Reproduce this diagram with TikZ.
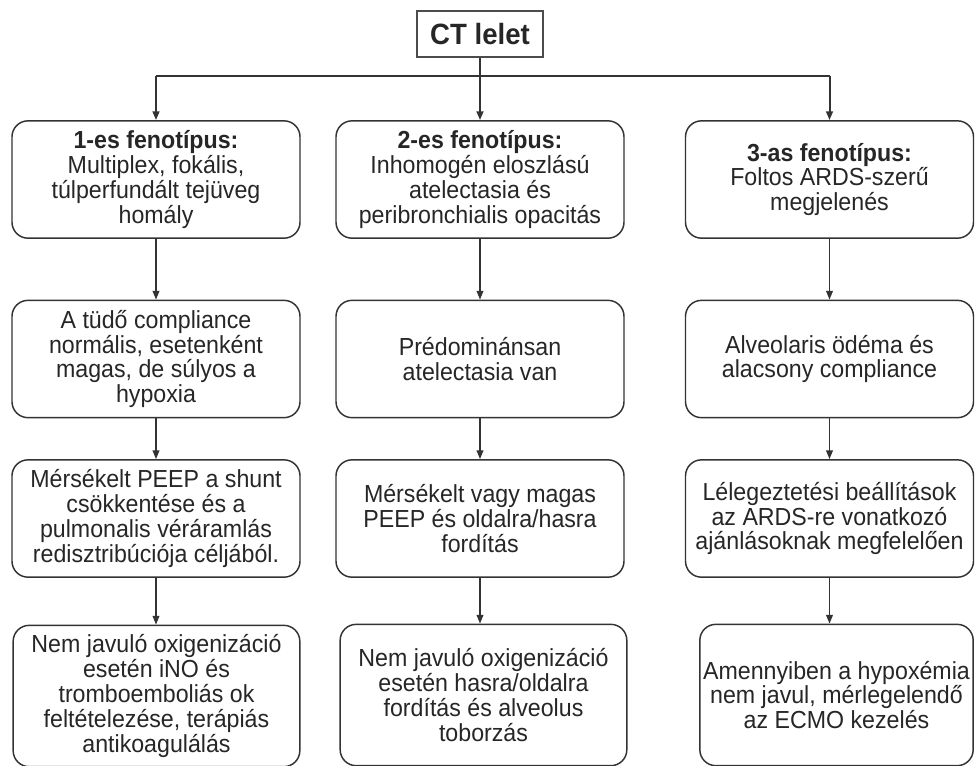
\documentclass[tikz,border=0pt]{standalone}
\usepackage{fontspec}
\setmainfont[FakeStretch=0.94]{Liberation Sans}
\usetikzlibrary{arrows.meta}

\begin{document}
\begin{tikzpicture}[x=0.75pt, y=-0.75pt,
	every node/.style={font=\fontsize{18.5}{18.6}\selectfont, align=center, text=black!85},
	>={Triangle[length=6.5pt, width=5pt]},
	box/.style={draw=black!80, line width=1.1pt, rounded corners=12pt, inner sep=0pt, minimum width=216pt, minimum height=88pt},
	tallbox/.style={box, minimum width=215pt, minimum height=106pt},
	link/.style={->, draw=black!80, line width=1.1pt}]
	\useasboundingbox (0,0) rectangle (975,765);
	\node[draw=black!70, line width=0.9pt, inner sep=0pt, minimum width=94.5pt, minimum height=34.5pt, font=\fontsize{22}{24}\selectfont\bfseries] (ct) at (480,34) {CT lelet};
	\node[box] (p1) at (156,179.5) {\textbf{1-es fenotípus:}\\Multiplex, fokális,\\túlperfundált tejüveg\\homály};
	\node[box] (p2) at (480,179.5) {\textbf{2-es fenotípus:}\\Inhomogén eloszlású\\atelectasia és\\peribronchialis opacitás};
	\node[box] (p3) at (829.5,179.5) {\textbf{3-as fenotípus:}\\Foltos ARDS-szerű\\megjelenés};
	\node[box] (m1) at (156,359) {A tüdő compliance\\normális, esetenként\\magas, de súlyos a\\hypoxia};
	\node[box] (m2) at (480,359) {Prédominánsan\\atelectasia van};
	\node[box] (m3) at (829.5,359) {Alveolaris ödéma és\\alacsony compliance};
	\node[box] (t1) at (156,518.5) {Mérsékelt PEEP a shunt\\csökkentése és a\\pulmonalis véráramlás\\redisztribúciója céljából.};
	\node[box] (t2) at (480,518.5) {Mérsékelt vagy magas\\PEEP és oldalra/hasra\\fordítás};
	\node[box] (t3) at (829.5,518.5) {Lélegeztetési beállítások\\az ARDS-re vonatkozó\\ajánlásoknak megfelelően};
	\node[tallbox] (n1) at (156.5,696) {Nem javuló oxigenizáció\\esetén iNO és\\tromboemboliás ok\\feltételezése, terápiás\\antikoagulálás};
	\node[tallbox] (n2) at (483.5,695) {Nem javuló oxigenizáció\\esetén hasra/oldalra\\fordítás és alveolus\\toborzás};
	\node[tallbox, minimum width=205pt] (n3) at (836.5,695) {Amennyiben a hypoxémia\\nem javul, mérlegelendő\\az ECMO kezelés};
	\coordinate (bus) at (480,76);
	\draw[draw=black!80, line width=2pt] (ct) -- (bus);
	\draw[draw=black!80, line width=2pt] (p1.north |- bus) -- (p3.north |- bus);
	\foreach \c in {1,2,3} {
		\draw[link, line width=1.5pt] (p\c.north |- bus) -- (p\c.north);
		\draw[link] (p\c) -- (m\c);
		\draw[link] (m\c) -- (t\c);
		\draw[link] (t\c.south) -- (t\c.south |- n\c.north);
	}
\end{tikzpicture}
\end{document}
